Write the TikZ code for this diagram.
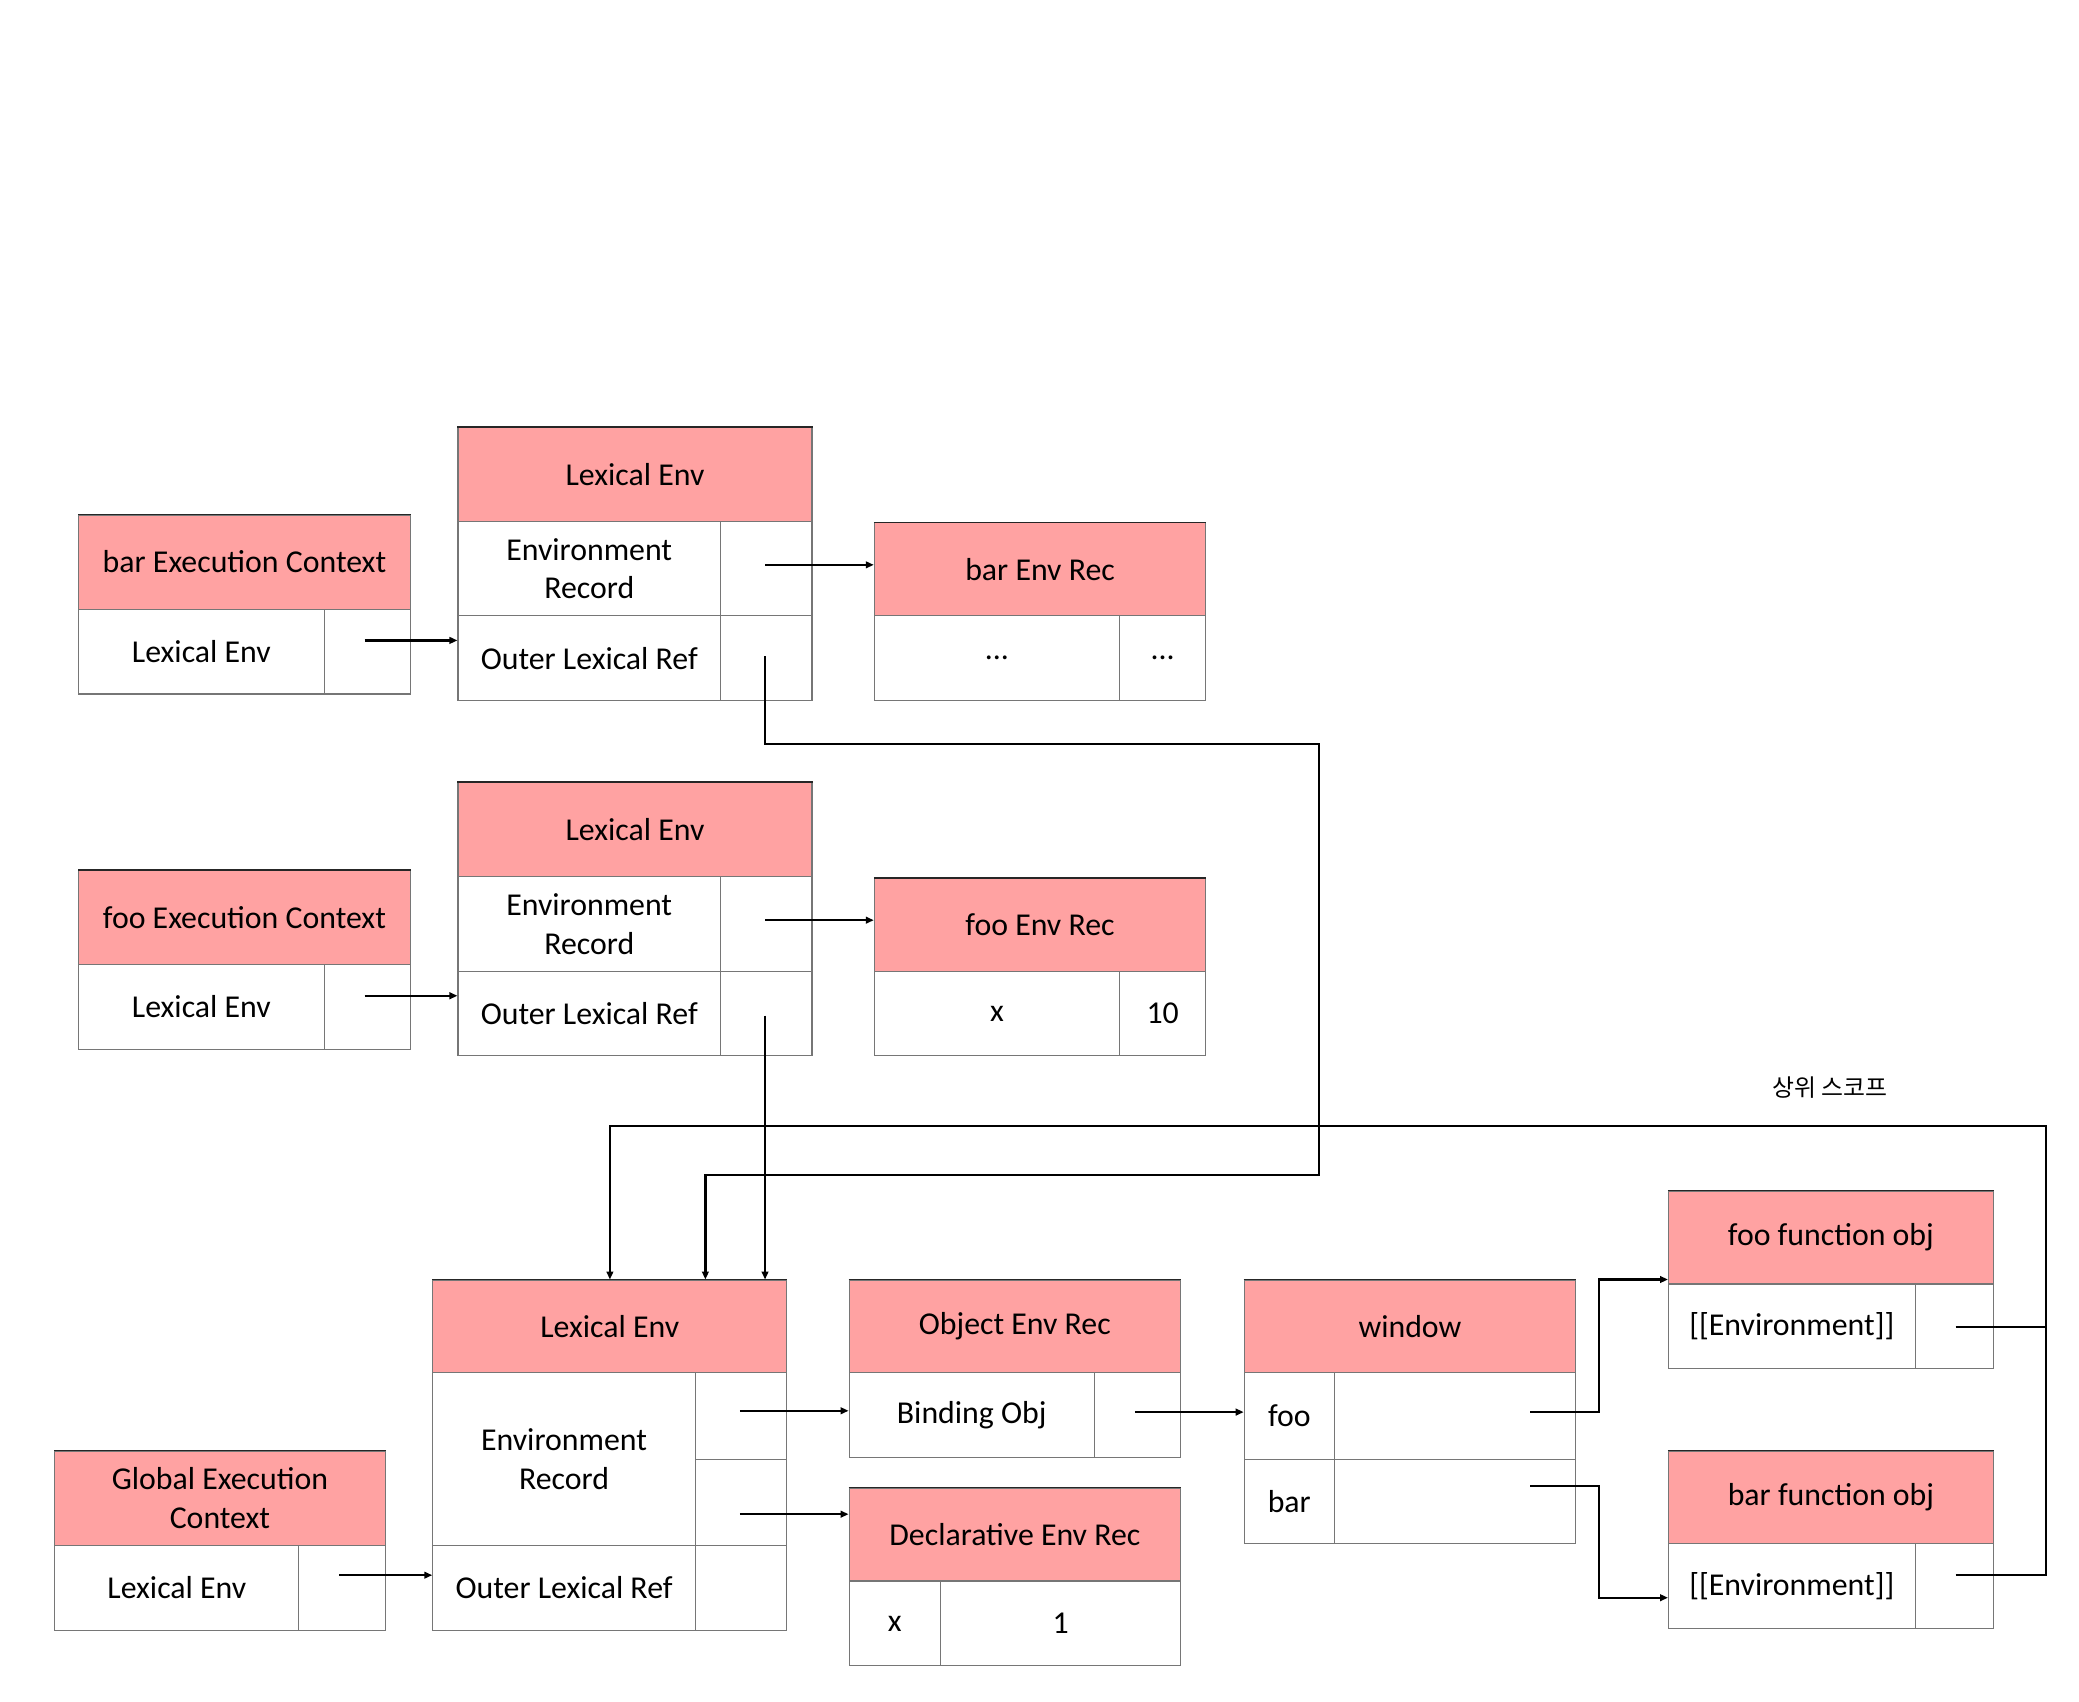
\documentclass[tikz,border=0pt]{standalone}
\usepackage{fontspec}
\setmainfont{Carlito}
\newfontfamily\krfont{Noto Sans CJK KR}
\usetikzlibrary{arrows.meta,calc}
\definecolor{hdrpink}{RGB}{255,162,162}
\definecolor{gridc}{RGB}{118,118,118}
\newcommand\mainsz{\fontsize{24}{29}\selectfont}
\begin{document}
\begin{tikzpicture}[x=1pt,y=1pt,
  hdr/.style={draw=gridc, line width=0.8pt, fill=hdrpink, anchor=north west, inner sep=0pt, align=center, font=\mainsz},
  cell/.style={draw=gridc, line width=0.8pt, fill=white, anchor=north west, inner sep=0pt, align=center, font=\mainsz},
  conn/.style={line width=1.7pt, draw=black},
  arr/.style={conn, -{Triangle[length=6pt,width=5pt]}},
  topedge/.style={line width=1.2pt, draw=black!85}]
\useasboundingbox[fill=white] (0,0) rectangle (1568,-1283);

% ---------- bar execution context ----------
\node[hdr, minimum width=250pt, minimum height=71pt] (barEC-h) at (59,-388) {bar Execution Context};
\node[cell, minimum width=185pt, minimum height=64pt] (barEC-le) at (59,-459) {Lexical Env};
\node[cell, minimum width=65pt, minimum height=64pt] (barEC-p) at (244,-459) {};

\node[hdr, minimum width=267pt, minimum height=71pt] (barLE-h) at (345,-322) {Lexical Env};
\node[cell, minimum width=198pt, minimum height=71pt] (barLE-er) at (345,-393) {Environment\\Record};
\node[cell, minimum width=69pt, minimum height=71pt] (barLE-erp) at (543,-393) {};
\node[cell, minimum width=198pt, minimum height=64pt] (barLE-olr) at (345,-464) {Outer Lexical Ref};
\node[cell, minimum width=69pt, minimum height=64pt] (barLE-olrp) at (543,-464) {};

\node[hdr, minimum width=250pt, minimum height=70pt] (barER-h) at (659,-394) {bar Env Rec};
\node[cell, minimum width=185pt, minimum height=64pt] (barER-k) at (659,-464) {...};
\node[cell, minimum width=65pt, minimum height=64pt] (barER-v) at (844,-464) {...};

% ---------- foo execution context ----------
\node[hdr, minimum width=250pt, minimum height=71pt] (fooEC-h) at (59,-656) {foo Execution Context};
\node[cell, minimum width=185pt, minimum height=64pt] (fooEC-le) at (59,-727) {Lexical Env};
\node[cell, minimum width=65pt, minimum height=64pt] (fooEC-p) at (244,-727) {};

\node[hdr, minimum width=267pt, minimum height=71pt] (fooLE-h) at (345,-590) {Lexical Env};
\node[cell, minimum width=198pt, minimum height=71pt] (fooLE-er) at (345,-661) {Environment\\Record};
\node[cell, minimum width=69pt, minimum height=71pt] (fooLE-erp) at (543,-661) {};
\node[cell, minimum width=198pt, minimum height=64pt] (fooLE-olr) at (345,-732) {Outer Lexical Ref};
\node[cell, minimum width=69pt, minimum height=64pt] (fooLE-olrp) at (543,-732) {};

\node[hdr, minimum width=250pt, minimum height=70pt] (fooER-h) at (659,-662) {foo Env Rec};
\node[cell, minimum width=185pt, minimum height=64pt] (fooER-k) at (659,-732) {x};
\node[cell, minimum width=65pt, minimum height=64pt] (fooER-v) at (844,-732) {10};

% ---------- global execution context ----------
\node[hdr, minimum width=249pt, minimum height=71pt] (gEC-h) at (41,-1094) {Global Execution\\Context};
\node[cell, minimum width=184pt, minimum height=64pt] (gEC-le) at (41,-1165) {Lexical Env};
\node[cell, minimum width=65pt, minimum height=64pt] (gEC-p) at (225,-1165) {};

\node[hdr, minimum width=267pt, minimum height=70pt] (gLE-h) at (326,-965) {Lexical Env};
\node[cell, minimum width=198pt, minimum height=130pt] (gLE-er) at (326,-1035) {Environment\\Record};
\node[cell, minimum width=69pt, minimum height=65pt] (gLE-erp1) at (524,-1035) {};
\node[cell, minimum width=69pt, minimum height=65pt] (gLE-erp2) at (524,-1100) {};
\node[cell, minimum width=198pt, minimum height=64pt] (gLE-olr) at (326,-1165) {Outer Lexical Ref};
\node[cell, minimum width=69pt, minimum height=64pt] (gLE-olrp) at (524,-1165) {};

\node[hdr, minimum width=250pt, minimum height=70pt] (objER-h) at (640,-965) {Object Env Rec};
\node[cell, minimum width=185pt, minimum height=64pt] (objER-b) at (640,-1035) {Binding Obj};
\node[cell, minimum width=65pt, minimum height=64pt] (objER-p) at (825,-1035) {};

\node[hdr, minimum width=250pt, minimum height=70pt] (decER-h) at (640,-1122) {Declarative Env Rec};
\node[cell, minimum width=69pt, minimum height=64pt] (decER-k) at (640,-1192) {x};
\node[cell, minimum width=181pt, minimum height=64pt] (decER-v) at (709,-1192) {1};

\node[hdr, minimum width=250pt, minimum height=70pt] (win-h) at (938,-965) {window};
\node[cell, minimum width=68pt, minimum height=65pt] (win-foo) at (938,-1035) {foo};
\node[cell, minimum width=182pt, minimum height=65pt] (win-foov) at (1006,-1035) {};
\node[cell, minimum width=68pt, minimum height=64pt] (win-bar) at (938,-1100) {bar};
\node[cell, minimum width=182pt, minimum height=64pt] (win-barv) at (1006,-1100) {};

\node[hdr, minimum width=245pt, minimum height=70pt] (fooFO-h) at (1258,-898) {foo function obj};
\node[cell, minimum width=186pt, minimum height=64pt] (fooFO-env) at (1258,-968) {[[Environment]]};
\node[cell, minimum width=59pt, minimum height=64pt] (fooFO-p) at (1444,-968) {};

\node[hdr, minimum width=245pt, minimum height=70pt] (barFO-h) at (1258,-1094) {bar function obj};
\node[cell, minimum width=186pt, minimum height=64pt] (barFO-env) at (1258,-1164) {[[Environment]]};
\node[cell, minimum width=59pt, minimum height=64pt] (barFO-p) at (1444,-1164) {};

\foreach \h in {barEC-h,barLE-h,barER-h,fooEC-h,fooLE-h,fooER-h,gEC-h,gLE-h,objER-h,decER-h,win-h,fooFO-h,barFO-h}
  \draw[topedge] (\h.north west) -- (\h.north east);

% label
\node[font=\krfont\fontsize{18}{22}\selectfont] (scope) at (1380,-820) {상위 스코프};

% ---------- connectors ----------
\coordinate (s1) at (275,-483);
\coordinate (s2) at (577,-426);
\coordinate (s3) at (577,-495);
\coordinate (j1) at (995,-561);
\coordinate (j2) at (532,-886);
\coordinate (s4) at (275,-751);
\coordinate (s5) at (577,-694);
\coordinate (s6) at (577,-766);
\coordinate (s7) at (256,-1188);
\coordinate (s8) at (558,-1064);
\coordinate (s9) at (558,-1142);
\coordinate (s10) at (856,-1065);
\coordinate (s11) at (1154,-1065);
\coordinate (j5) at (1206,-965);
\coordinate (s12) at (1154,-1121);
\coordinate (j6) at (1206,-1205);
\coordinate (s13) at (1475,-1001);
\coordinate (s14) at (1475,-1188);
\coordinate (j3) at (1543,-849);
\coordinate (j4) at (460,-849);

\draw[arr] (s1) -- (s1 -| barLE-olr.west);
\draw[arr] (s2) -- (s2 -| barER-h.west);
\draw[arr] (s3) |- (j1) |- (j2) -- (j2 |- gLE-h.north);
\draw[arr] (s4) -- (s4 -| fooLE-olr.west);
\draw[arr] (s5) -- (s5 -| fooER-h.west);
\draw[arr] (s6) -- (s6 |- gLE-h.north);
\draw[arr] (s7) -- (s7 -| gLE-olr.west);
\draw[arr] (s8) -- (s8 -| objER-b.west);
\draw[arr] (s9) -- (s9 -| decER-h.west);
\draw[arr] (s10) -- (s10 -| win-foo.west);
\draw[arr] (s11) -| (j5) -- (j5 -| fooFO-h.west);
\draw[arr] (s12) -| (j6) -- (j6 -| barFO-env.west);
\draw[conn] (s13) -- (s13 -| j3);
\draw[arr] (s14) -| (j3) -- (j4) -- (j4 |- gLE-h.north);
\end{tikzpicture}
\end{document}
